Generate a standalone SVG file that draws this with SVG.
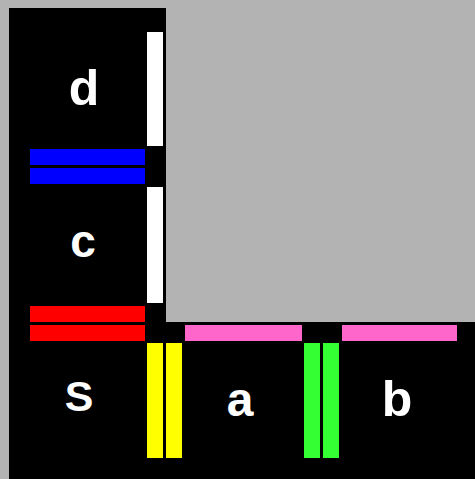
<svg xmlns="http://www.w3.org/2000/svg" width="475" height="479" viewBox="0 0 475 479">
<style>
.lbl{font-family:"Liberation Sans",Arial,sans-serif;font-weight:bold;fill:#fff;text-anchor:middle}
.w{fill:#fff}.bl{fill:#0000ff}.r{fill:#ff0000}.y{fill:#ffff00}.p{fill:#ff66cc}.g{fill:#33ff33}
</style>
<rect x="0" y="0" width="475" height="479" fill="#b3b3b3"/>
<path d="M9 8H166V322H475V479H9Z" fill="#000"/>
<g id="connectors">
<rect class="w" x="147" y="32" width="16" height="114"/>
<rect class="w" x="147" y="187" width="16" height="116"/>
<rect class="bl" x="30" y="149" width="115" height="16"/>
<rect class="bl" x="30" y="168" width="115" height="16"/>
<rect class="r" x="30" y="306" width="115" height="16"/>
<rect class="r" x="30" y="325" width="115" height="16"/>
<rect class="y" x="147" y="343" width="16" height="115"/>
<rect class="y" x="166" y="343" width="16" height="115"/>
<rect class="p" x="185" y="325" width="117" height="16"/>
<rect class="p" x="342" y="325" width="115" height="16"/>
<rect class="g" x="304" y="343" width="16" height="115"/>
<rect class="g" x="323" y="343" width="16" height="115"/>
</g>
<g id="node-d"><text class="lbl" x="84" y="105" font-size="50">d</text></g>
<g id="node-c"><text class="lbl" x="83" y="257" font-size="46">c</text></g>
<g id="node-S"><text class="lbl" x="79" y="411" font-size="43">S</text></g>
<g id="node-a"><text class="lbl" x="240" y="416" font-size="48">a</text></g>
<g id="node-b"><text class="lbl" x="397" y="416" font-size="50">b</text></g>
</svg>
